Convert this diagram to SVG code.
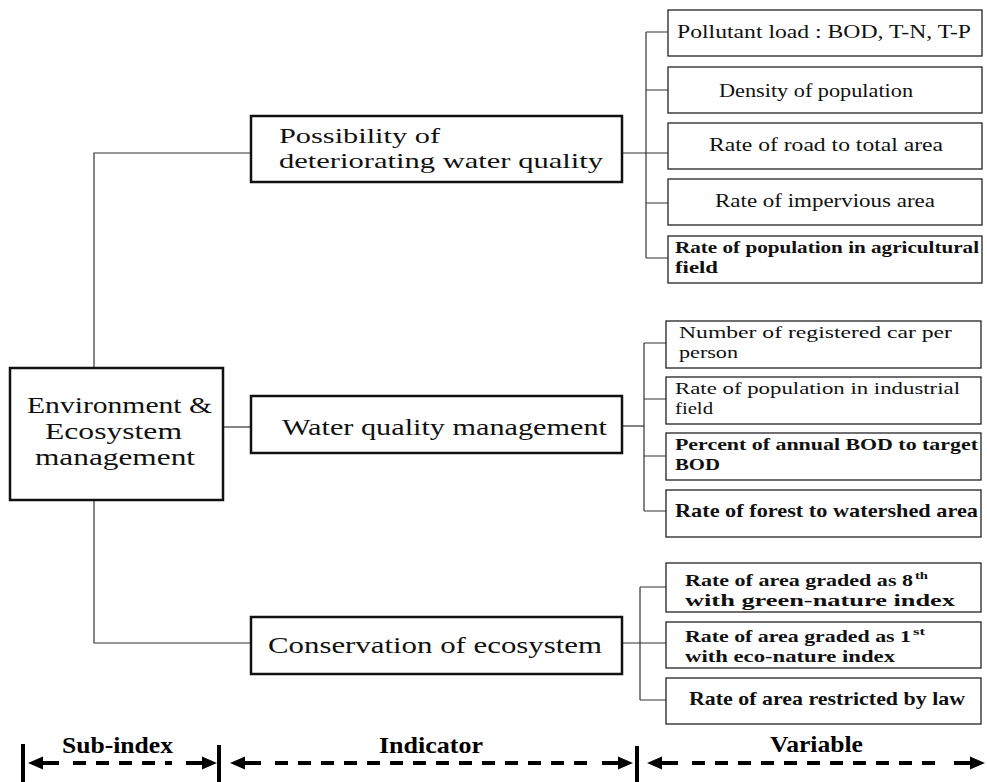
<svg xmlns="http://www.w3.org/2000/svg" width="987" height="782" viewBox="0 0 987 782">
  <style>
    .bg { fill: #ffffff; }
    .root { fill: #ffffff; stroke: #111; stroke-width: 2.5; }
    .ind { fill: #ffffff; stroke: #111; stroke-width: 2.5; }
    .var { fill: #ffffff; stroke: #222; stroke-width: 1.3; }
    .wire { fill: none; stroke: #333; stroke-width: 1.2; }
    .t { font-family: "Liberation Serif", "Times New Roman", serif; fill: #111; }
    .big { font-size: 24px; }
    .mid { font-size: 24px; }
    .mid2 { font-size: 22px; }
    .sm { font-size: 18.5px; }
    .sm2 { font-size: 17px; }
    .b { font-size: 19px; font-weight: bold; }
    .b2 { font-size: 17px; font-weight: bold; }
    .sup { font-size: 11px; font-weight: bold; }
    .scale { font-family: "Liberation Serif", "Times New Roman", serif; font-size: 24px; font-weight: bold; fill: #000; }
    .bar { stroke: #000; stroke-width: 4; }
    .dash { stroke: #000; stroke-width: 4; stroke-dasharray: 13 10; marker-start: url(#head); marker-end: url(#head); }
  </style>
  <defs>
    <!-- arrowhead with a short solid stem; origin sits at the end of the dashed run -->
    <marker id="head" viewBox="0 -8 46 16" refX="0" refY="0" markerWidth="46" markerHeight="16" markerUnits="userSpaceOnUse" orient="auto-start-reverse">
      <path d="M14,-2 H30 V2 H14 Z M30,-6.5 L45,0 L30,6.5 Z" fill="#000"/>
    </marker>
  </defs>

  <rect class="bg" x="0" y="0" width="987" height="782"/>

  <!-- connectors -->
  <g id="connectors">
    <path class="wire" d="M94,368 V153 H251"/>
    <path class="wire" d="M223,427 H251"/>
    <path class="wire" d="M94,500 V643 H251"/>
    <!-- first indicator to its variables -->
    <path class="wire" d="M622,153 H668"/>
    <path class="wire" d="M646,32 V258"/>
    <path class="wire" d="M646,32 H668 M646,90 H668 M646,203 H668 M646,258 H668"/>
    <!-- second indicator to its variables -->
    <path class="wire" d="M622,426 H644"/>
    <path class="wire" d="M644,343 V511"/>
    <path class="wire" d="M644,343 H666 M644,399 H666 M644,456 H666 M644,511 H666"/>
    <!-- third indicator to its variables -->
    <path class="wire" d="M622,643 H666"/>
    <path class="wire" d="M640,587 V700"/>
    <path class="wire" d="M640,587 H666 M640,700 H666"/>
  </g>

  <!-- sub-index -->
  <g id="root">
    <rect class="root" x="10" y="368" width="213" height="132"/>
    <text class="t big" x="27" y="413" textLength="185" lengthAdjust="spacingAndGlyphs">Environment &amp;</text>
    <text class="t big" x="45" y="439" textLength="137" lengthAdjust="spacingAndGlyphs">Ecosystem</text>
    <text class="t big" x="35" y="465" textLength="160" lengthAdjust="spacingAndGlyphs">management</text>
  </g>

  <!-- indicators -->
  <g id="ind-deteriorating">
    <rect class="ind" x="251" y="116" width="371" height="66"/>
    <text class="t mid2" x="279" y="143" textLength="161" lengthAdjust="spacingAndGlyphs">Possibility of</text>
    <text class="t mid2" x="279" y="168" textLength="324" lengthAdjust="spacingAndGlyphs">deteriorating water quality</text>
  </g>
  <g id="ind-water">
    <rect class="ind" x="251" y="396" width="371" height="57"/>
    <text class="t mid" x="282" y="435" textLength="325" lengthAdjust="spacingAndGlyphs">Water quality management</text>
  </g>
  <g id="ind-conservation">
    <rect class="ind" x="251" y="617" width="371" height="57"/>
    <text class="t mid" x="268" y="653" textLength="334" lengthAdjust="spacingAndGlyphs">Conservation of ecosystem</text>
  </g>

  <!-- variables: deteriorating water quality -->
  <g id="var-pollutant">
    <rect class="var" x="668" y="10" width="314" height="46"/>
    <text class="t sm" x="677" y="38" textLength="294" lengthAdjust="spacingAndGlyphs">Pollutant load : BOD, T-N, T-P</text>
  </g>
  <g id="var-density">
    <rect class="var" x="668" y="67" width="314" height="46"/>
    <text class="t sm" x="719" y="97" textLength="194" lengthAdjust="spacingAndGlyphs">Density of population</text>
  </g>
  <g id="var-road">
    <rect class="var" x="668" y="123" width="314" height="46"/>
    <text class="t sm" x="709" y="151" textLength="234" lengthAdjust="spacingAndGlyphs">Rate of road to total area</text>
  </g>
  <g id="var-impervious">
    <rect class="var" x="668" y="179" width="314" height="46"/>
    <text class="t sm" x="715" y="207" textLength="220" lengthAdjust="spacingAndGlyphs">Rate of impervious area</text>
  </g>
  <g id="var-agricultural">
    <rect class="var" x="668" y="236" width="314" height="47"/>
    <text class="t b2" x="675" y="253" textLength="304" lengthAdjust="spacingAndGlyphs">Rate of population in agricultural</text>
    <text class="t b2" x="675" y="273" textLength="43" lengthAdjust="spacingAndGlyphs">field</text>
  </g>

  <!-- variables: water quality management -->
  <g id="var-car">
    <rect class="var" x="666" y="321" width="315" height="47"/>
    <text class="t sm2" x="679" y="338" textLength="273" lengthAdjust="spacingAndGlyphs">Number of registered car per</text>
    <text class="t sm2" x="679" y="358" textLength="59" lengthAdjust="spacingAndGlyphs">person</text>
  </g>
  <g id="var-industrial">
    <rect class="var" x="666" y="377" width="315" height="47"/>
    <text class="t sm2" x="675" y="394" textLength="285" lengthAdjust="spacingAndGlyphs">Rate of population in industrial</text>
    <text class="t sm2" x="675" y="414" textLength="38" lengthAdjust="spacingAndGlyphs">field</text>
  </g>
  <g id="var-bod">
    <rect class="var" x="666" y="433" width="315" height="47"/>
    <text class="t b2" x="675" y="450" textLength="303" lengthAdjust="spacingAndGlyphs">Percent of annual BOD to target</text>
    <text class="t b2" x="675" y="470" textLength="45" lengthAdjust="spacingAndGlyphs">BOD</text>
  </g>
  <g id="var-forest">
    <rect class="var" x="666" y="490" width="315" height="47"/>
    <text class="t b" x="675" y="517" textLength="303" lengthAdjust="spacingAndGlyphs">Rate of forest to watershed area</text>
  </g>

  <!-- variables: conservation of ecosystem -->
  <g id="var-green">
    <rect class="var" x="666" y="563" width="315" height="49"/>
    <text class="t b2" x="685" y="586" textLength="228" lengthAdjust="spacingAndGlyphs">Rate of area graded as 8</text>
    <text class="t sup" x="915" y="579" textLength="13" lengthAdjust="spacingAndGlyphs">th</text>
    <text class="t b2" x="685" y="606" textLength="270" lengthAdjust="spacingAndGlyphs">with green-nature index</text>
  </g>
  <g id="var-eco">
    <rect class="var" x="666" y="622" width="315" height="46"/>
    <text class="t b2" x="685" y="642" textLength="226" lengthAdjust="spacingAndGlyphs">Rate of area graded as 1</text>
    <text class="t sup" x="913" y="635" textLength="12" lengthAdjust="spacingAndGlyphs">st</text>
    <text class="t b2" x="685" y="662" textLength="210" lengthAdjust="spacingAndGlyphs">with eco-nature index</text>
  </g>
  <g id="var-law">
    <rect class="var" x="666" y="678" width="315" height="46"/>
    <text class="t b" x="689" y="705" textLength="276" lengthAdjust="spacingAndGlyphs">Rate of area restricted by law</text>
  </g>

  <!-- level scale along the bottom -->
  <g id="scale">
    <line class="bar" x1="23" y1="744" x2="23" y2="782"/>
    <line class="bar" x1="219" y1="745" x2="219" y2="782"/>
    <line class="bar" x1="637" y1="746" x2="637" y2="782"/>
    <line class="dash" x1="73" y1="763" x2="172" y2="763"/>
    <line class="dash" x1="275" y1="763" x2="588" y2="763"/>
    <line class="dash" x1="692" y1="763" x2="940" y2="763"/>
    <text class="scale" x="62" y="753" textLength="111" lengthAdjust="spacingAndGlyphs">Sub-index</text>
    <text class="scale" x="379" y="753" textLength="104" lengthAdjust="spacingAndGlyphs">Indicator</text>
    <text class="scale" x="770" y="752" textLength="93" lengthAdjust="spacingAndGlyphs">Variable</text>
  </g>
</svg>
